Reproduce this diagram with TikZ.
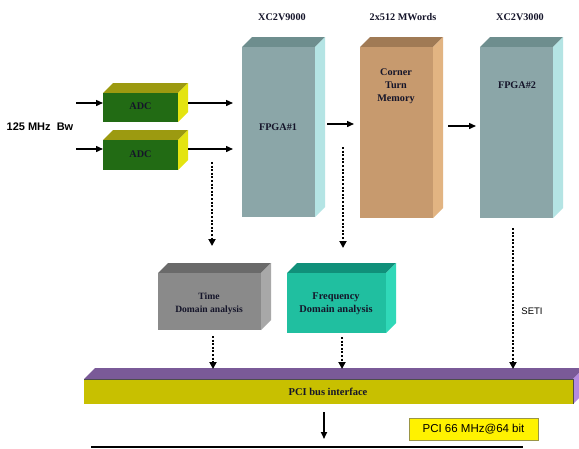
\documentclass[tikz,border=0pt]{standalone}
\usepackage{fontspec}
\setmainfont{Liberation Serif}
\setsansfont{Liberation Sans}
\usetikzlibrary{arrows.meta,calc}
\definecolor{adcF}{HTML}{226B14}
\definecolor{adcT}{HTML}{9C9A10}
\definecolor{adcS}{HTML}{E4E410}
\definecolor{fpgaF}{HTML}{8BA6A8}
\definecolor{fpgaT}{HTML}{6E8E8E}
\definecolor{fpgaS}{HTML}{B4E4E4}
\definecolor{memF}{HTML}{C79A6E}
\definecolor{memT}{HTML}{A07A55}
\definecolor{memS}{HTML}{E2B482}
\definecolor{timeF}{HTML}{8A8A8A}
\definecolor{timeT}{HTML}{6A6A6A}
\definecolor{timeS}{HTML}{A8A8A8}
\definecolor{freqF}{HTML}{20BFA0}
\definecolor{freqT}{HTML}{10907A}
\definecolor{freqS}{HTML}{30D8B8}
\definecolor{busF}{HTML}{C8C000}
\definecolor{busT}{HTML}{7A5A98}
\definecolor{busS}{HTML}{B48AE0}
\definecolor{txt}{HTML}{15152A}
% #1 name, #2 x1, #3 y1, #4 x2, #5 y2, #6 front, #7 top, #8 side, #9 depth
\newcommand\cubebox[9]{%
  \fill[#7] (#2,#3) -- (#2+#9,#3-#9) -- (#4+#9,#3-#9) -- (#4,#3) -- cycle;
  \fill[#8] (#4,#3) -- (#4+#9,#3-#9) -- (#4+#9,#5-#9) -- (#4,#5) -- cycle;
  \node[fill=#6, inner sep=0pt, outer sep=0pt, minimum width={#4-#2}, minimum height={#5-#3}, anchor=north west] (#1) at (#2,#3) {};
}
\begin{document}
\begin{tikzpicture}[x=1pt,y=-1pt,
  lbl/.style={font=\bfseries\fontsize{10.2}{12}\selectfont, text=txt, align=center, inner sep=0pt},
  arr/.style={line width=1.4pt, -{Triangle[length=7pt,width=6pt]}},
  dotarr/.style={line width=2.3pt, dash pattern=on 2pt off 1.6pt, -{Triangle[length=7pt,width=7pt]}}]
\useasboundingbox (0,0) rectangle (579,448);
\clip (0,0) rectangle (579,448);
\fill[white] (0,0) rectangle (579,448);

% boxes
\cubebox{adc1}{103}{93}{178}{122}{adcF}{adcT}{adcS}{10}
\cubebox{adc2}{103}{140}{178}{170}{adcF}{adcT}{adcS}{10}
\cubebox{fpga1}{242}{47}{315}{217}{fpgaF}{fpgaT}{fpgaS}{10}
\cubebox{mem}{360}{47}{433}{218}{memF}{memT}{memS}{10}
\cubebox{fpga2}{480}{47}{553}{218}{fpgaF}{fpgaT}{fpgaS}{10}
\cubebox{time}{158}{273}{261}{330}{timeF}{timeT}{timeS}{10}
\cubebox{freq}{287}{273}{386}{333}{freqF}{freqT}{freqS}{10}
\cubebox{bus}{84}{379}{573}{404}{busF}{busT}{busS}{11}
\draw[black!70, line width=0.6pt] (bus.north west) -- (bus.north east) -- (bus.south east);

% labels
\node[lbl] (l9000) at (282,17) {XC2V9000};
\node[lbl] (l512) at (403,17) {2x512 MWords};
\node[lbl] (l3000) at (520,17) {XC2V3000};
\node[lbl] (adc1t) at (140.5,106) {ADC};
\node[lbl] (adc2t) at (140.5,154) {ADC};
\node[lbl] (fpga1t) at (278,127) {FPGA\#1};
\node[lbl, font=\bfseries\fontsize{10.2}{13}\selectfont] (memt) at (396,86) {Corner\\Turn\\Memory};
\node[lbl] (fpga2t) at (517,85) {FPGA\#2};
\node[lbl, font=\bfseries\fontsize{9.6}{13}\selectfont] (timet) at (209,304) {Time\\Domain analysis};
\node[lbl, font=\bfseries\fontsize{10.4}{13}\selectfont] (freqt) at (336,304) {Frequency\\Domain analysis};
\node[lbl, font=\bfseries\fontsize{10.5}{12}\selectfont] (bust) at (328,392) {PCI bus interface};
\node[font=\sffamily\bfseries\fontsize{11}{13}\selectfont, inner sep=0pt] (bw) at (40,127) {125 MHz\ \ Bw};
\node[font=\sffamily\fontsize{9.5}{11}\selectfont, inner sep=0pt] (seti) at (532,311) {SETI};
\node[font=\sffamily\fontsize{11.5}{13}\selectfont, fill=yellow, draw=black!45!yellow, line width=0.8pt,
      minimum width=129pt, minimum height=22pt, inner sep=0pt] (pci) at (473.5,429) {PCI 66 MHz@64 bit};

% coordinates
\coordinate (in1) at (76,103);
\coordinate (in2) at (76,149);
\coordinate (o1s) at (188,103);
\coordinate (o1e) at (233,103);
\coordinate (o2s) at (188,149);
\coordinate (o2e) at (233,149);
\coordinate (d1s) at (212,162);
\coordinate (d1e) at (212,246);
\coordinate (d2s) at (343,147);
\coordinate (d2e) at (343,248);
\coordinate (d3s) at (213,336);
\coordinate (d4s) at (342,337);
\coordinate (d5s) at (513,228);
\coordinate (b1) at (213,369);
\coordinate (b2) at (342,369);
\coordinate (b3) at (513,369);
\coordinate (f1s) at (327,124);
\coordinate (f1e) at (354,124);
\coordinate (f2s) at (448,126);
\coordinate (f2e) at (476,126);
\coordinate (pds) at (324,412);
\coordinate (pde) at (324,439);
\coordinate (bl1) at (91,447);
\coordinate (bl2) at (523,447);

% connectors
\draw[arr] (in1) -- (adc1.west |- in1);
\draw[arr] (in2) -- (adc2.west |- in2);
\draw[arr] (o1s) -- (o1e);
\draw[arr] (o2s) -- (o2e);
\draw[arr] (f1s) -- (f1e);
\draw[arr] (f2s) -- (f2e);
\draw[dotarr] (d1s) -- (d1e);
\draw[dotarr] (d2s) -- (d2e);
\draw[dotarr] (d3s) -- (b1);
\draw[dotarr] (d4s) -- (b2);
\draw[dotarr] (d5s) -- (b3);
\draw[arr, line width=1.6pt] (pds) -- (pde);
\draw[line width=2.5pt] (bl1) -- (bl2);
\end{tikzpicture}
\end{document}
